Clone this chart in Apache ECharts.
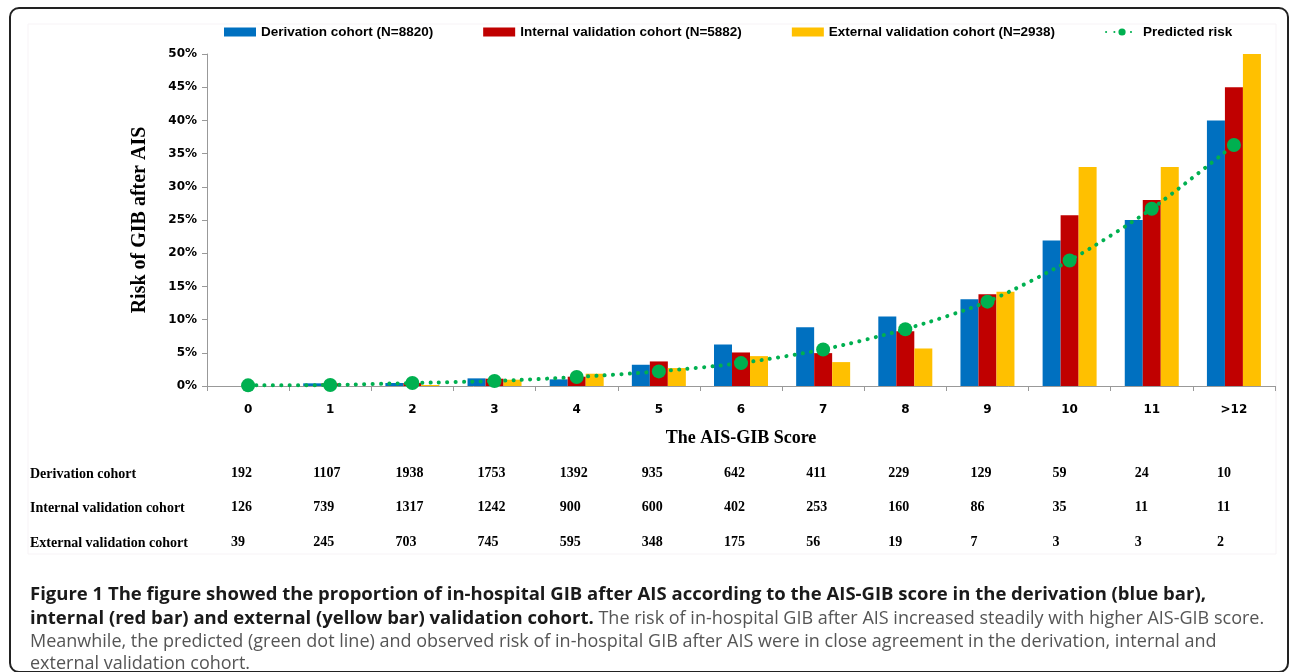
<!DOCTYPE html>
<html><head><meta charset="utf-8">
<script src="https://cdn.jsdelivr.net/npm/echarts@6/dist/echarts.min.js"></script>
<style>html,body{margin:0;padding:0;background:#fff}#c{width:1290px;height:672px}</style>
</head><body><div id="c"></div>
<script>
const categories = ['0','1','2','3','4','5','6','7','8','9','10','11','>12'];
const derivation = [0, 0.4, 0.45, 1.15, 1.0, 3.2, 6.25, 8.85, 10.45, 13.05, 21.9, 25.0, 40.0];
const internal   = [0, 0.4, 0.45, 1.1, 1.4, 3.7, 5.05, 4.95, 8.25, 13.8, 25.7, 28.0, 45.0];
const external   = [0, 0, 0.15, 0.95, 1.85, 2.7, 4.5, 3.6, 5.65, 14.2, 33.0, 33.0, 50.0];
const predicted  = [0.1, 0.15, 0.45, 0.75, 1.35, 2.2, 3.45, 5.5, 8.55, 12.7, 18.9, 26.7, 36.3];
const derivationN = [192,1107,1938,1753,1392,935,642,411,229,129,59,24,10];
const internalN   = [126,739,1317,1242,900,600,402,253,160,86,35,11,11];
const externalN   = [39,245,703,745,595,348,175,56,19,7,3,3,2];
const rowLabels = ['Derivation cohort','Internal validation cohort','External validation cohort'];
const seriesNames = ['Derivation cohort (N=8820)','Internal validation cohort (N=5882)','External validation cohort (N=2938)','Predicted risk'];
const colors = ['#0070C0','#C00000','#FFC000','#00B050'];

const chart = echarts.init(document.getElementById('c'), null, {renderer:'canvas'});
const serif = '"Liberation Serif","Times New Roman",serif';
const sans = '"DejaVu Sans",Verdana,sans-serif';
const capFont = '"Open Sans",sans-serif';

function tableAxis(data, margin){
  return {
    type:'category', data: data.map(String), position:'bottom', gridIndex:1,
    axisLine:{show:false}, axisTick:{show:false}, splitLine:{show:false},
    axisLabel:{margin: margin, align:'left', fontFamily: serif, fontWeight:'bold', fontSize:14, color:'#000', interval:0}
  };
}

const option = {
  backgroundColor:'#fff',
  animation:false,
  color: colors,
  legend:{
    top: 25, left: 224, padding: 0, itemGap: 50, itemWidth: 32, itemHeight: 9,
    textStyle:{fontFamily:'"Liberation Sans",Arial,sans-serif', fontWeight:'bold', fontSize:13.5, color:'#000'},
    data:[
      {name: seriesNames[0], icon:'rect'},
      {name: seriesNames[1], icon:'rect'},
      {name: seriesNames[2], icon:'rect'},
      {name: seriesNames[3]}
    ]
  },
  grid:[
    {left:207, right:15, top:54, bottom:286, containLabel:false},
    {left:190, right:32, top:54, bottom:286, containLabel:false}
  ],
  xAxis:[
    {
      type:'category', data: categories, boundaryGap:true, gridIndex:0,
      axisLine:{lineStyle:{color:'#999', width:1}},
      axisTick:{show:true, length:5, lineStyle:{color:'#999'}},
      axisLabel:{margin:18, fontFamily:sans, fontWeight:'bold', fontSize:12, color:'#000', interval:0},
      name:'The AIS-GIB Score', nameLocation:'middle', nameGap:43,
      nameTextStyle:{fontFamily:serif, fontWeight:'bold', fontSize:18, color:'#000'}
    },
    tableAxis(derivationN, 80),
    tableAxis(internalN, 114),
    tableAxis(externalN, 149)
  ],
  yAxis:[{
    type:'value', min:0, max:50, interval:5, gridIndex:0,
    axisLine:{show:true, lineStyle:{color:'#999'}},
    axisTick:{show:true, inside:false, length:5, lineStyle:{color:'#999'}},
    splitLine:{show:false},
    axisLabel:{formatter:'{value}%', fontFamily:sans, fontWeight:'bold', fontSize:12, color:'#000', margin:10},
    name:'Risk of GIB after AIS', nameLocation:'middle', nameGap:57,
    nameTextStyle:{fontFamily:serif, fontWeight:'bold', fontSize:20, color:'#000'}
  },{
    type:'value', gridIndex:1, show:false, min:0, max:50
  }],
  series:[
    {name: seriesNames[0], type:'bar', data: derivation, barWidth:18, barGap:'0%', itemStyle:{color:colors[0]}},
    {name: seriesNames[1], type:'bar', data: internal, barWidth:18, barGap:'0%', itemStyle:{color:colors[1]}},
    {name: seriesNames[2], type:'bar', data: external, barWidth:18, barGap:'0%', itemStyle:{color:colors[2]}},
    {name: seriesNames[3], type:'line', data: predicted, smooth:0.25, z:5,
      symbol:'circle', symbolSize:14, showSymbol:true,
      itemStyle:{color:colors[3]},
      lineStyle:{color:colors[3], width:4, type:[0.1, 8.2], cap:'round'}}
  ],
  graphic:[
    {type:'rect', shape:{x:10, y:8, width:1278, height:664, r:9}, style:{fill:null, stroke:'#222', lineWidth:2}, silent:true},
    {type:'rect', shape:{x:28, y:24, width:1248, height:530}, style:{fill:null, stroke:'#f7f3f6', lineWidth:1}, silent:true},
    {type:'text', left:30, top:467, style:{text: rowLabels[0], font:'bold 14px ' + serif, fill:'#000'}},
    {type:'text', left:30, top:501, style:{text: rowLabels[1], font:'bold 14px ' + serif, fill:'#000'}},
    {type:'text', left:30, top:536, style:{text: rowLabels[2], font:'bold 14px ' + serif, fill:'#000'}},
    {type:'text', left:30, top:585, style:{text:'Figure 1 The figure showed the proportion of in-hospital GIB after AIS according to the AIS-GIB score in the derivation (blue bar),', font:'bold 18.5px ' + capFont, fill:'#1a1a1a'}},
    {type:'text', left:30, top:609, style:{
      text:'{b|internal (red bar) and external (yellow bar) validation cohort.}{n| The risk of in-hospital GIB after AIS increased steadily with higher AIS-GIB score.}',
      rich:{
        b:{fontFamily:capFont, fontWeight:'bold', fontSize:18.5, fill:'#1a1a1a', color:'#1a1a1a'},
        n:{fontFamily:capFont, fontWeight:'normal', fontSize:18, fill:'#555', color:'#555'}
      }}},
    {type:'text', left:30, top:633, style:{text:'Meanwhile, the predicted (green dot line) and observed risk of in-hospital GIB after AIS were in close agreement in the derivation, internal and', font:'18px ' + capFont, fill:'#555'}},
    {type:'text', left:30, top:655, style:{text:'external validation cohort.', font:'18px ' + capFont, fill:'#555'}}
  ]
};
chart.setOption(option);
</script>
</body></html>
